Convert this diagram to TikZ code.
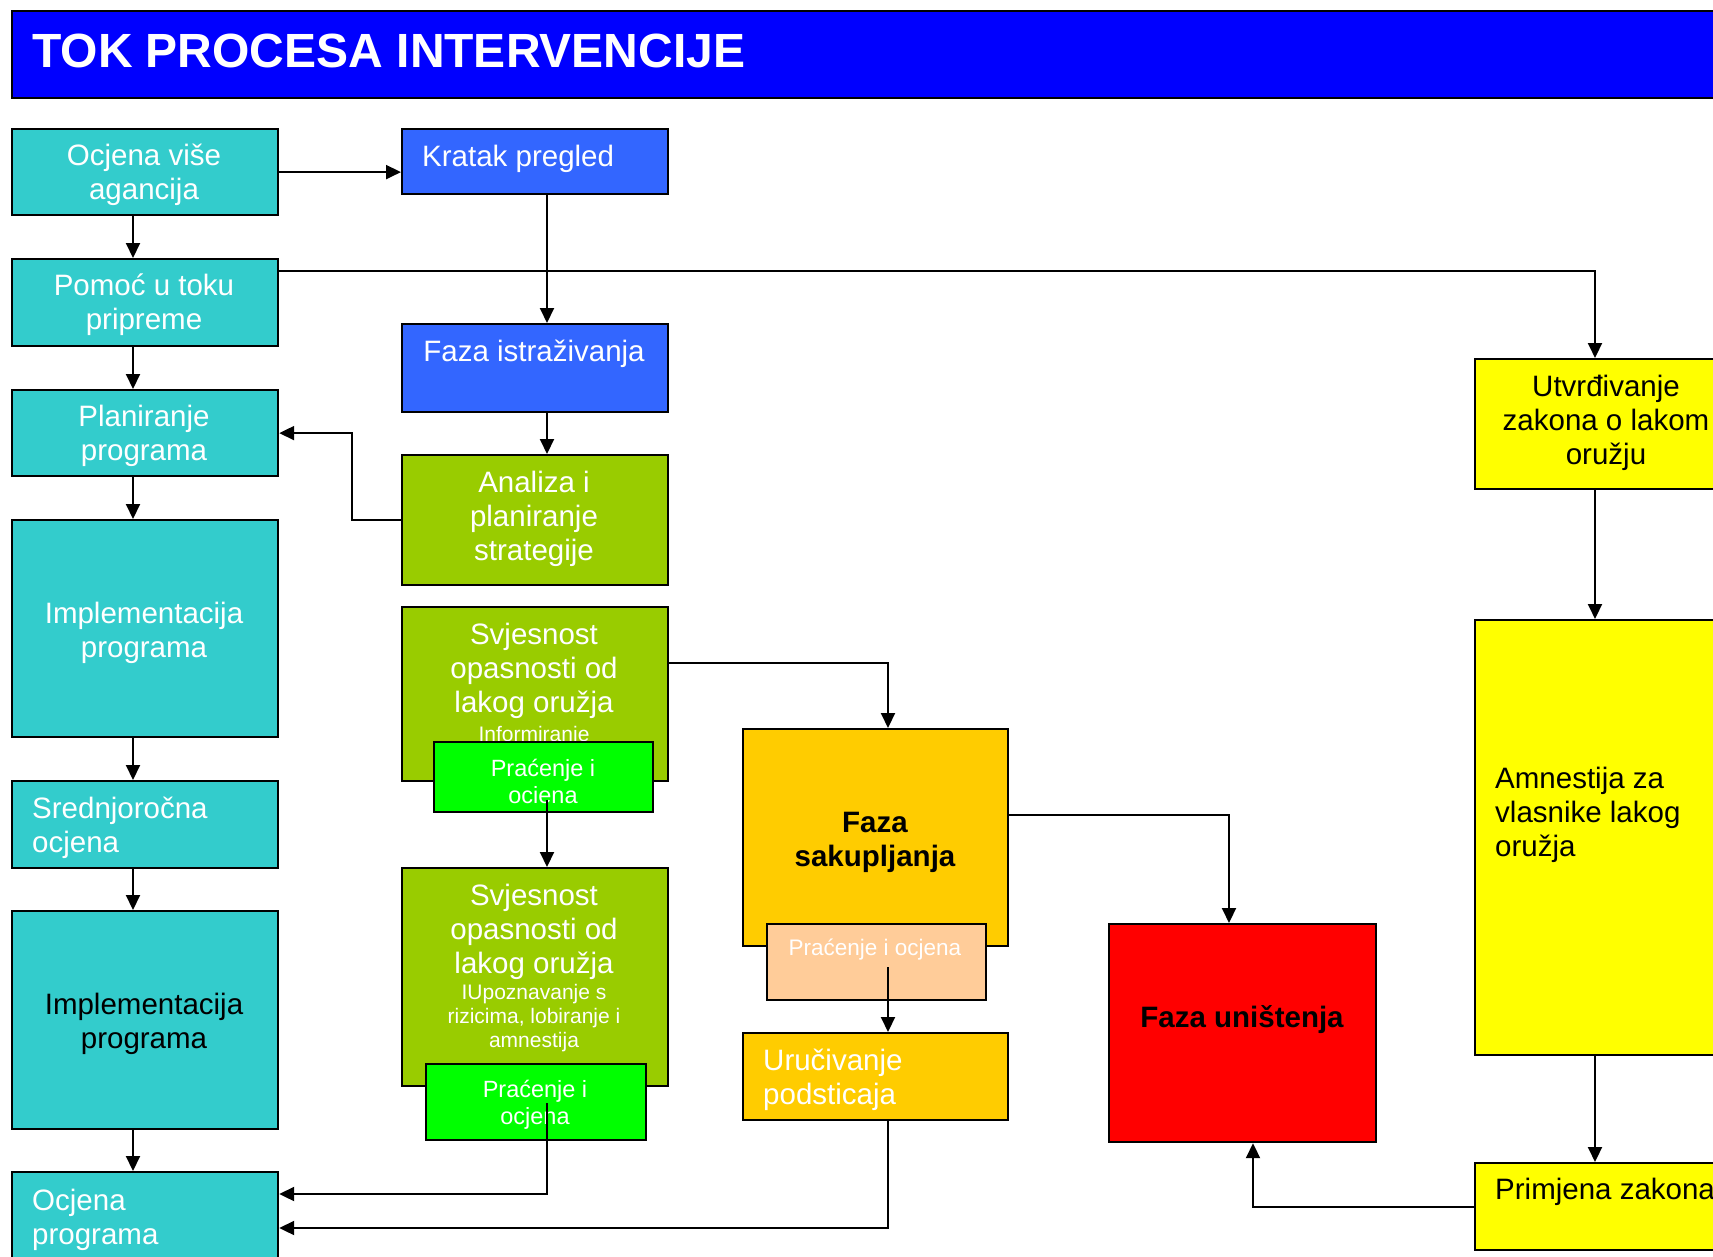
\documentclass[tikz,border=0pt]{standalone}
\usepackage{fontspec}
\setmainfont{Liberation Sans}
\usetikzlibrary{arrows.meta}
\definecolor{cteal}{HTML}{33CCCC}
\definecolor{cblue}{HTML}{3366FF}
\definecolor{ctitle}{HTML}{0000FF}
\definecolor{cgreen}{HTML}{99CC00}
\definecolor{clime}{HTML}{00FF00}
\definecolor{corange}{HTML}{FFCC00}
\definecolor{cpeach}{HTML}{FFCC99}
\definecolor{cred}{HTML}{FF0000}
\definecolor{cyellow}{HTML}{FFFF00}
\begin{document}
\begin{tikzpicture}[x=1pt,y=-1pt,
  box/.style={draw=black, line width=2.2pt, rectangle, inner sep=0pt, anchor=north west},
  txt/.style={inner sep=0pt, align=center, text=white, font=\fontsize{29.5}{34}\selectfont},
  ltxt/.style={inner sep=0pt, align=left, anchor=west, text=white, font=\fontsize{29.5}{34}\selectfont},
  stxt/.style={inner sep=0pt, align=center, text=white, font=\fontsize{21}{24}\selectfont},
  ptxt/.style={inner sep=0pt, align=center, text=white, font=\fontsize{23.5}{27}\selectfont},
  btxt/.style={inner sep=0pt, align=center, text=black, font=\fontsize{29.5}{34}\selectfont\bfseries},
  arr/.style={line width=2pt, -{Triangle[length=15pt,width=14pt]}},
  ln/.style={line width=2pt}
]
\clip (0,0) rectangle (1713,1256);
\fill[white] (0,0) rectangle (1713,1256);

% title
\node[box, fill=ctitle, minimum width=1730, minimum height=87] (title) at (11,10) {};
\node[anchor=base west, inner sep=0pt, text=white, font=\fontsize{48}{50}\selectfont\bfseries] (ttl) at (32,67) {TOK PROCESA INTERVENCIJE};

% helper coordinates
\coordinate (ax) at (133,0);
\coordinate (bx) at (547,0);
\coordinate (cx) at (888,0);
\coordinate (dx) at (1595,0);
\coordinate (ex) at (1229,0);
\coordinate (fx) at (1253,0);
\coordinate (gx) at (352,0);
\coordinate (py) at (0,271);
\coordinate (sy) at (0,663);
\coordinate (uy) at (0,815);
\coordinate (oy1) at (0,1194);
\coordinate (oy2) at (0,1228);
\coordinate (p1s) at (547,800);
\coordinate (p3s) at (888,967);
\coordinate (p2s) at (547,1103);

% left column
\node[box, fill=cteal, minimum width=266, minimum height=86] (ocj) at (11,128) {};
\node[txt] (tocj) at (144,175) {Ocjena više\\agancija};
\node[box, fill=cteal, minimum width=266, minimum height=87] (pom) at (11,258) {};
\node[txt] (tpom) at (144,305) {Pomoć u toku\\pripreme};
\node[box, fill=cteal, minimum width=266, minimum height=86] (plan) at (11,389) {};
\node[txt] (tplan) at (144,436) {Planiranje\\programa};
\node[box, fill=cteal, minimum width=266, minimum height=217] (impl) at (11,519) {};
\node[txt] (timpl) at (144,633) {Implementacija\\programa};
\node[box, fill=cteal, minimum width=266, minimum height=87] (sred) at (11,780) {};
\node[ltxt] (tsred) at (32,828) {Srednjoročna\\ocjena};
\node[box, fill=cteal, minimum width=266, minimum height=218] (impl2) at (11,910) {};
\node[txt, text=black] (timpl2) at (144,1024) {Implementacija\\programa};
\node[box, fill=cteal, minimum width=266, minimum height=110] (ocp) at (11,1171) {};
\node[ltxt] (tocp) at (32,1220) {Ocjena\\programa};

% second column
\node[box, fill=cblue, minimum width=266, minimum height=65] (krat) at (401,128) {};
\node[ltxt] (tkrat) at (422,158.5) {Kratak pregled};
\node[box, fill=cblue, minimum width=266, minimum height=88] (faza) at (401,323) {};
\node[txt] (tfaza) at (534,354) {Faza istraživanja};
\node[box, fill=cgreen, minimum width=266, minimum height=130] (anal) at (401,454) {};
\node[txt] (tanal) at (534,519) {Analiza i\\planiranje\\strategije};
\node[box, fill=cgreen, minimum width=266, minimum height=174] (svj1) at (401,606) {};
\node[txt] (tsvj1) at (534,671) {Svjesnost\\opasnosti od\\lakog oružja};
\node[stxt] (tinf) at (534,736) {Informiranje};
\node[box, fill=clime, minimum width=219, minimum height=70] (prac1) at (433,741) {};
\node[ptxt] (tprac1) at (543,781) {Praćenje i\\ociena};
\node[box, fill=cgreen, minimum width=266, minimum height=218] (svj2) at (401,867) {};
\node[txt] (tsvj2) at (534,932) {Svjesnost\\opasnosti od\\lakog oružja};
\node[stxt] (tsvj2b) at (534,1018) {IUpoznavanje s\\rizicima, lobiranje i\\amnestija};
\node[box, fill=clime, minimum width=220, minimum height=76] (prac2) at (425,1063) {};
\node[ptxt] (tprac2) at (535,1105) {Praćenje i\\ocjena};

% third column
\node[box, fill=corange, minimum width=265, minimum height=217] (sak) at (742,728) {};
\node[btxt] (tsak) at (875,842) {Faza\\sakupljanja};
\node[box, fill=cpeach, minimum width=219, minimum height=76] (peach) at (766,923) {};
\node[ptxt, font=\fontsize{22.5}{26}\selectfont] (tpeach) at (875,950) {Praćenje i ocjena};
\node[box, fill=corange, minimum width=265, minimum height=87] (uru) at (742,1032) {};
\node[ltxt] (turu) at (763,1080) {Uručivanje\\podsticaja};

% red
\node[box, fill=cred, minimum width=267, minimum height=218] (unis) at (1108,923) {};
\node[btxt] (tunis) at (1242,1020) {Faza uništenja};

% yellow column
\node[box, fill=cyellow, minimum width=266, minimum height=130] (utv) at (1474,358) {};
\node[txt, text=black] (tutv) at (1606,423) {Utvrđivanje\\zakona o lakom\\oružju};
\node[box, fill=cyellow, minimum width=266, minimum height=435] (amn) at (1474,619) {};
\node[ltxt, text=black] (tamn) at (1495,815) {Amnestija za\\vlasnike lakog\\oružja};
\node[box, fill=cyellow, minimum width=266, minimum height=87] (prim) at (1474,1162) {};
\node[ltxt, text=black] (tprim) at (1495,1192) {Primjena zakona};

% connectors
\draw[arr] (ocj.east) -- (ocj.east -| krat.west);
\draw[arr] (ax |- ocj.south) -- (ax |- pom.north);
\draw[arr] (ax |- pom.south) -- (ax |- plan.north);
\draw[arr] (ax |- plan.south) -- (ax |- impl.north);
\draw[arr] (ax |- impl.south) -- (ax |- sred.north);
\draw[arr] (ax |- sred.south) -- (ax |- impl2.north);
\draw[arr] (ax |- impl2.south) -- (ax |- ocp.north);
\draw[arr] (bx |- krat.south) -- (bx |- faza.north);
\draw[arr] (bx |- faza.south) -- (bx |- anal.north);
\draw[arr] (anal.west) -- (gx |- anal.west) -- (gx |- plan.east) -- (plan.east);
\draw[arr] (pom.east |- py) -- (dx |- py) -- (dx |- utv.north);
\draw[arr] (dx |- utv.south) -- (dx |- amn.north);
\draw[arr] (dx |- amn.south) -- (dx |- prim.north);
\draw[arr] (prim.west) -- (fx |- prim.west) -- (fx |- unis.south);
\draw[arr] (svj1.east |- sy) -- (cx |- sy) -- (cx |- sak.north);
\draw[arr] (sak.east |- uy) -- (ex |- uy) -- (ex |- unis.north);
\draw[arr] (p1s) -- (bx |- svj2.north);
\draw[arr] (p3s) -- (cx |- uru.north);
\draw[arr] (p2s) -- (bx |- oy1) -- (ocp.east |- oy1);
\draw[arr] (cx |- uru.south) -- (cx |- oy2) -- (ocp.east |- oy2);
\end{tikzpicture}
\end{document}
